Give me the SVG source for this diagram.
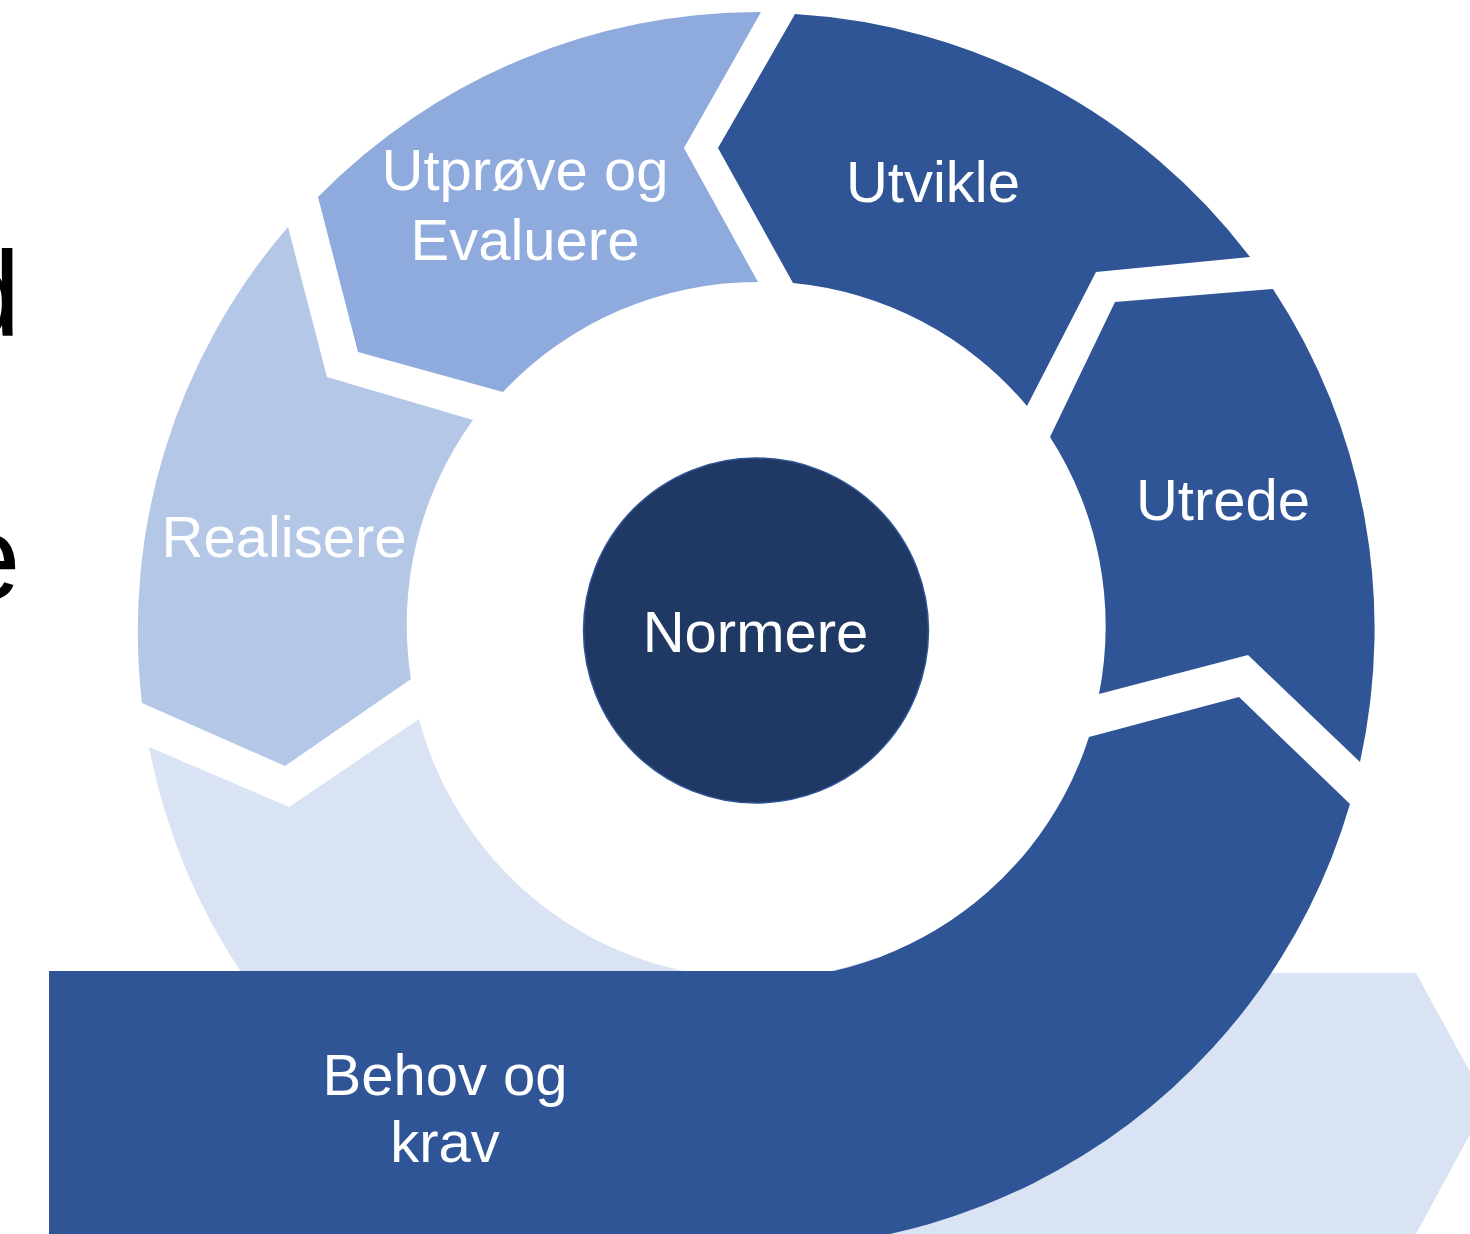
<svg xmlns="http://www.w3.org/2000/svg" width="1470" height="1234" viewBox="0 0 1470 1234">
<style>
.lbl{font-family:"Liberation Sans",Arial,sans-serif;font-size:58px;fill:#FFFFFF;text-anchor:middle}
.side{font-family:"Liberation Sans",Arial,sans-serif;font-size:120px;fill:#000000;text-anchor:end}
.dark{fill:#2F5597}
</style>
<rect x="0" y="0" width="1470" height="1234" fill="#FFFFFF"/>
<g id="side-text">
<text class="side" x="20.5" y="335">d</text>
<text class="side" x="20.5" y="599">e</text>
</g>
<g id="light-segment">
<path fill="#DAE3F3" d="M 149,747 A 618 618 0 0 0 967,1211 L 875,958 A 349 349 0 0 1 419,719 L 289,807 Z"/>
<path fill="#DAE3F3" d="M 700,973 L 1416,973 L 1487,1103 L 1416,1234 L 700,1234 Z"/>
</g>
<g id="behov-og-krav">
<path class="dark" d="M 1089,737 L 1239,697 L 1350,804 A 618 618 0 0 1 649,1239 L 695,974 A 349 349 0 0 0 1089,737 Z"/>
<rect class="dark" x="49" y="971" width="791" height="263"/>
<text class="lbl" x="445" y="1095">Behov og</text>
<text class="lbl" x="445" y="1162">krav</text>
</g>
<g id="utrede">
<path class="dark" d="M 1273,289 A 618 618 0 0 1 1360,762 L 1248,655 L 1099,694 A 349 349 0 0 0 1050,437 L 1115,302 Z"/>
<text class="lbl" x="1223" y="520">Utrede</text>
</g>
<g id="utvikle">
<path class="dark" d="M 795,14 A 618 618 0 0 1 1250,257 L 1096,272 L 1027,406 A 349 349 0 0 0 793,283 L 718,148 Z"/>
<text class="lbl" x="933" y="202">Utvikle</text>
</g>
<g id="utprove-og-evaluere">
<path fill="#8FAADC" d="M 318,197 A 618 618 0 0 1 761,12 L 684,148 L 758,282 A 349 349 0 0 0 503,392 L 358,352 Z"/>
<text class="lbl" x="525" y="190">Utprøve og</text>
<text class="lbl" x="525" y="260">Evaluere</text>
</g>
<g id="realisere">
<path fill="#B4C7E7" d="M 288,227 L 327,377 L 473,420 A 349 349 0 0 0 411,679 L 285,766 L 142,703 A 618 618 0 0 1 288,227 Z"/>
<text class="lbl" x="284" y="557">Realisere</text>
</g>
<g id="normere">
<circle cx="756" cy="630.5" r="172.5" fill="#203864" stroke="#2F5597" stroke-width="1.5"/>
<text class="lbl" x="755.5" y="652">Normere</text>
</g>
<g id="connectors"/>
</svg>
